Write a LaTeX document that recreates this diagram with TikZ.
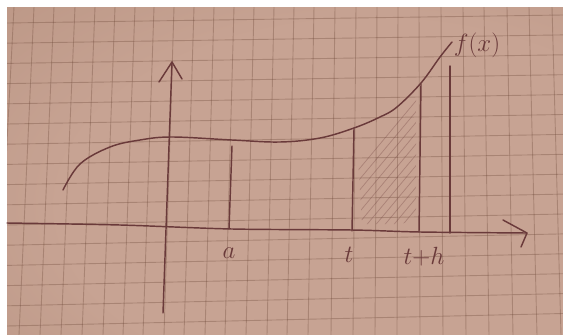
\documentclass[tikz,border=0pt]{standalone}
\definecolor{penc}{HTML}{6A3A3A}
\definecolor{gridc}{RGB}{105,68,52}
\definecolor{paperin}{HTML}{C7A393}
\definecolor{paperout}{HTML}{A27C68}
\pgfdeclareradialshading{paperglow}{\pgfpoint{12bp}{-8bp}}{color(0bp)=(paperin); color(28bp)=(paperin); color(82bp)=(paperout)}
\begin{document}
\begin{tikzpicture}[x=1pt,y=-1pt,
  pen/.style={draw=penc,line width=1.45pt,line cap=round,line join=round},
  gridl/.style={draw=gridc,line width=0.9pt,opacity=0.32},
  hatchl/.style={draw=penc,line width=0.7pt,opacity=0.32,line cap=round},
  lbl/.style={text=penc,inner sep=0pt,font=\fontsize{24}{24}\selectfont}]
\useasboundingbox (0,0) rectangle (563,335);
\fill[white] (0,0) rectangle (563,335);
\shade[shading=paperglow] (7,7) rectangle (563,335);
% grid of the paper
\begin{scope}
\clip (7,7) rectangle (563,335);
\foreach \t/\b in {14/-3,34/19,54/40,75/61,95/82,115/103,135/123,154/143,174/164,194/184,214/205,234/225,254/246,274/267,294/287,314/308,335/331,356/353,377/375,398/397,419/420,441/443,463/466,484/489,507/513,529/537,552/561}
  \draw[gridl] (\t,7) -- (\b,335);
\foreach \k in {0,...,15}
  \draw[gridl] (7,{23+20.2*\k}) -- (563,{15+19.9*\k});
\end{scope}
% hatching
\begin{scope}
\clip (357,142) -- (372,124) -- (395,110) -- (416,92) -- (416,218) -- (402,224) -- (362,224) -- cycle;
\foreach \i in {0,...,12}
  \draw[hatchl] ({300+9*\i},240) -- ++(125,-150);
\end{scope}
% axes
\coordinate (xs) at (7,223);
\coordinate (xe) at (527,233);
\coordinate (xu) at (503,220);
\coordinate (xl) at (521,247);
\draw[pen] plot[smooth] coordinates {(xs) (120,225) (232,229) (352,230) (420,232) (xe)};
\draw[pen] (xu) -- (xe) -- (xl);
\coordinate (ys) at (163,313);
\coordinate (ye) at (172,62);
\coordinate (yl) at (159,82);
\coordinate (yr) at (182,79);
\draw[pen] (ys) -- (ye);
\draw[pen] (yl) -- (ye) -- (yr);
% curve
\draw[pen] plot[smooth,tension=0.6] coordinates {(63,190) (80,164) (110,147) (140,140) (172,137) (232,140) (280,142) (320,138) (354,128) (380,117) (397,107) (421,83) (440,57) (452,42)};
% vertical lines
\coordinate (aT) at (232,146); \coordinate (aB) at (229,229);
\coordinate (tT) at (354,129); \coordinate (tB) at (352,231);
\coordinate (hT) at (421,84);  \coordinate (hB) at (419,232);
\coordinate (fT) at (450,66);  \coordinate (fB) at (450,233);
\draw[pen] (aT) -- (aB);
\draw[pen] (tT) -- (tB);
\draw[pen] (hT) -- (hB);
\draw[pen] (fT) -- (fB);
% labels
\node[lbl] (la) at (229,253) {$a$};
\node[lbl] (lt) at (349,255) {$t$};
\node[lbl] (lth) at (424,257) {$t{+}h$};
\node[lbl,font=\fontsize{28}{28}\selectfont] (lf) at (477,45) {$f(x)$};
\end{tikzpicture}
\end{document}
